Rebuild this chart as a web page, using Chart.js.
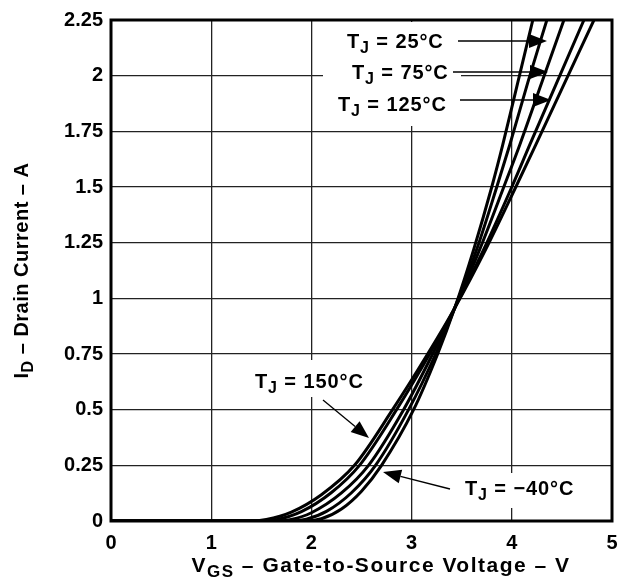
<!DOCTYPE html>
<html>
<head>
<meta charset="utf-8">
<script src="https://cdn.jsdelivr.net/npm/chart.js@4.4.0/dist/chart.umd.min.js"></script>
<style>
  html, body { margin: 0; padding: 0; background: #fff; }
</style>
</head>
<body>
<canvas id="chart" width="633" height="588"></canvas>
<script>
// --- data (VGS in V, ID in A) ---
const xTickValues = [0, 1, 2, 3, 4, 5];
const yTickLabels = ['0', '0.25', '0.5', '0.75', '1', '1.25', '1.5', '1.75', '2', '2.25'];

const vgs150 = [0, 1.38, 1.55, 1.8, 2.1, 2.43, 2.81, 3.16, 3.43, 3.74, 4.04, 4.24, 4.53, 4.82];
const id150  = [0, 0, 0.007, 0.04, 0.118, 0.25, 0.5, 0.75, 0.956, 1.22, 1.5, 1.69, 1.97, 2.25];

const vgs125 = [0, 1.5, 1.65, 1.9, 2.2, 2.48, 2.85, 3.18, 3.43, 3.72, 4.0, 4.18, 4.45, 4.72];
const id125  = [0, 0, 0.006, 0.042, 0.128, 0.25, 0.5, 0.75, 0.956, 1.22, 1.5, 1.69, 1.97, 2.25];

const vgs75 = [0, 1.65, 1.8, 2.0, 2.3, 2.57, 2.92, 3.21, 3.43, 3.68, 3.92, 4.08, 4.3, 4.52];
const id75  = [0, 0, 0.007, 0.037, 0.126, 0.25, 0.5, 0.75, 0.956, 1.22, 1.5, 1.69, 1.97, 2.25];

const vgs25 = [0, 1.8, 1.95, 2.15, 2.4, 2.64, 2.97, 3.24, 3.43, 3.65, 3.85, 3.98, 4.16, 4.35];
const id25  = [0, 0, 0.008, 0.043, 0.127, 0.25, 0.5, 0.75, 0.956, 1.22, 1.5, 1.69, 1.97, 2.25];

const vgsM40 = [0, 1.95, 2.1, 2.3, 2.5, 2.7, 3.02, 3.26, 3.43, 3.62, 3.8, 3.91, 4.06, 4.21];
const idM40  = [0, 0, 0.01, 0.054, 0.134, 0.25, 0.5, 0.75, 0.956, 1.22, 1.5, 1.69, 1.97, 2.25];

const FONT = '"Liberation Sans", Arial, Helvetica, sans-serif';

function pts(xs, ys) {
    return xs.map((x, i) => ({ x: x, y: ys[i] }));
}

function curve(label, xs, ys) {
    return {
        label: label,
        data: pts(xs, ys),
        borderColor: '#000',
        borderWidth: 3,
        pointRadius: 0,
        fill: false,
        cubicInterpolationMode: 'monotone'
    };
}

// draws text made of parts, some of them subscripts
function richText(ctx, parts, x, y, size, spacing) {
    let cx = x;
    parts.forEach(p => {
        const s = p.sub ? Math.round(size * 0.8) : size;
        ctx.font = 'bold ' + s + 'px ' + FONT;
        ctx.letterSpacing = (spacing || 0) + 'px';
        ctx.fillText(p.t, cx, p.sub ? y + 5 : y);
        cx += ctx.measureText(p.t).width;
    });
    ctx.letterSpacing = '0px';
    return cx - x;
}

function richWidth(ctx, parts, size, spacing) {
    let w = 0;
    parts.forEach(p => {
        const s = p.sub ? Math.round(size * 0.8) : size;
        ctx.font = 'bold ' + s + 'px ' + FONT;
        ctx.letterSpacing = (spacing || 0) + 'px';
        w += ctx.measureText(p.t).width;
    });
    ctx.letterSpacing = '0px';
    return w;
}

function arrow(ctx, x0, y0, x1, y1) {
    const a = Math.atan2(y1 - y0, x1 - x0);
    const len = 18, hw = 7;
    ctx.beginPath();
    ctx.moveTo(x0, y0);
    ctx.lineTo(x1 - Math.cos(a) * len, y1 - Math.sin(a) * len);
    ctx.stroke();
    ctx.beginPath();
    ctx.moveTo(x1, y1);
    ctx.lineTo(x1 - Math.cos(a) * len - Math.sin(a) * hw, y1 - Math.sin(a) * len + Math.cos(a) * hw);
    ctx.lineTo(x1 - Math.cos(a) * len + Math.sin(a) * hw, y1 - Math.sin(a) * len - Math.cos(a) * hw);
    ctx.closePath();
    ctx.fill();
}

// label boxes (white, hide the grid), texts and leaders
const labelBoxes = [
    [323, 22, 138, 104],
    [250, 360, 118, 37],
    [458, 473, 122, 35]
];
const tempNotes = [
    { text: ' = 25°C',  x: 347, y: 48,  from: [458, 41],  to: [547, 41] },
    { text: ' = 75°C',  x: 352, y: 79,  from: [453, 72],  to: [548, 72] },
    { text: ' = 125°C', x: 338, y: 111, from: [460, 100], to: [551, 100] },
    { text: ' = 150°C', x: 255, y: 388, from: [323, 400], to: [369, 438] },
    { text: ' = \u221240°C', x: 465, y: 495, from: [450, 489], to: [383, 472] }
];

const annotations = {
    id: 'annotations',
    beforeDatasetsDraw(chart) {
        const ctx = chart.ctx;
        ctx.save();
        ctx.fillStyle = '#fff';
        labelBoxes.forEach(b => ctx.fillRect(b[0], b[1], b[2], b[3]));
        ctx.restore();
    },
    afterDatasetsDraw(chart) {
        const ctx = chart.ctx;
        const a = chart.chartArea;
        ctx.save();
        // frame
        ctx.strokeStyle = '#000';
        ctx.lineWidth = 3;
        ctx.strokeRect(a.left, a.top, a.right - a.left, a.bottom - a.top);

        ctx.fillStyle = '#000';
        ctx.lineWidth = 1.3;
        ctx.textBaseline = 'alphabetic';
        ctx.textAlign = 'left';
        tempNotes.forEach(n => {
            richText(ctx, [{ t: 'T' }, { t: 'J', sub: true }, { t: n.text }], n.x, n.y, 20, 0.9);
            arrow(ctx, n.from[0], n.from[1], n.to[0], n.to[1]);
        });
        ctx.restore();
    },
    afterDraw(chart) {
        const ctx = chart.ctx;
        const a = chart.chartArea;
        ctx.save();
        ctx.fillStyle = '#000';
        ctx.textBaseline = 'alphabetic';
        ctx.textAlign = 'left';
        // x title
        const xt = [{ t: 'V' }, { t: 'GS', sub: true }, { t: ' \u2013 Gate-to-Source Voltage \u2013 V' }];
        const xw = richWidth(ctx, xt, 21, 1.5);
        richText(ctx, xt, 381 - xw / 2, 572, 21, 1.5);
        // y title
        const yt = [{ t: 'I' }, { t: 'D', sub: true }, { t: ' \u2013 Drain Current \u2013 A' }];
        const yw = richWidth(ctx, yt, 20, 0.5);
        ctx.translate(28, (a.top + a.bottom) / 2);
        ctx.rotate(-Math.PI / 2);
        richText(ctx, yt, -yw / 2, 0, 20, 0.5);
        ctx.restore();
    }
};

new Chart(document.getElementById('chart'), {
    type: 'line',
    data: {
        datasets: [
            curve('TJ = 150°C', vgs150, id150),
            curve('TJ = 125°C', vgs125, id125),
            curve('TJ = 75°C', vgs75, id75),
            curve('TJ = 25°C', vgs25, id25),
            curve('TJ = −40°C', vgsM40, idM40)
        ]
    },
    options: {
        responsive: false,
        animation: false,
        devicePixelRatio: 1,
        layout: { padding: { top: 20, right: 21, left: 0, bottom: 0 } },
        plugins: { legend: { display: false }, tooltip: { enabled: false } },
        scales: {
            x: {
                type: 'linear',
                min: 0, max: 5,
                afterBuildTicks: s => { s.ticks = xTickValues.map(v => ({ value: v })); },
                afterFit: s => { s.height = 67; },
                ticks: { color: '#000', padding: 10, font: { family: FONT, size: 20, weight: 'bold' } },
                grid: { color: '#222', lineWidth: 1.3, drawTicks: false },
                border: { display: false }
            },
            y: {
                type: 'linear',
                min: 0, max: 2.25,
                ticks: {
                    stepSize: 0.25,
                    color: '#000',
                    padding: 8,
                    font: { family: FONT, size: 20, weight: 'bold' },
                    callback: (v, i) => yTickLabels[i]
                },
                afterFit: s => { s.width = 111; },
                grid: { color: '#222', lineWidth: 1.3, drawTicks: false },
                border: { display: false }
            }
        }
    },
    plugins: [annotations]
});
</script>
</body>
</html>
